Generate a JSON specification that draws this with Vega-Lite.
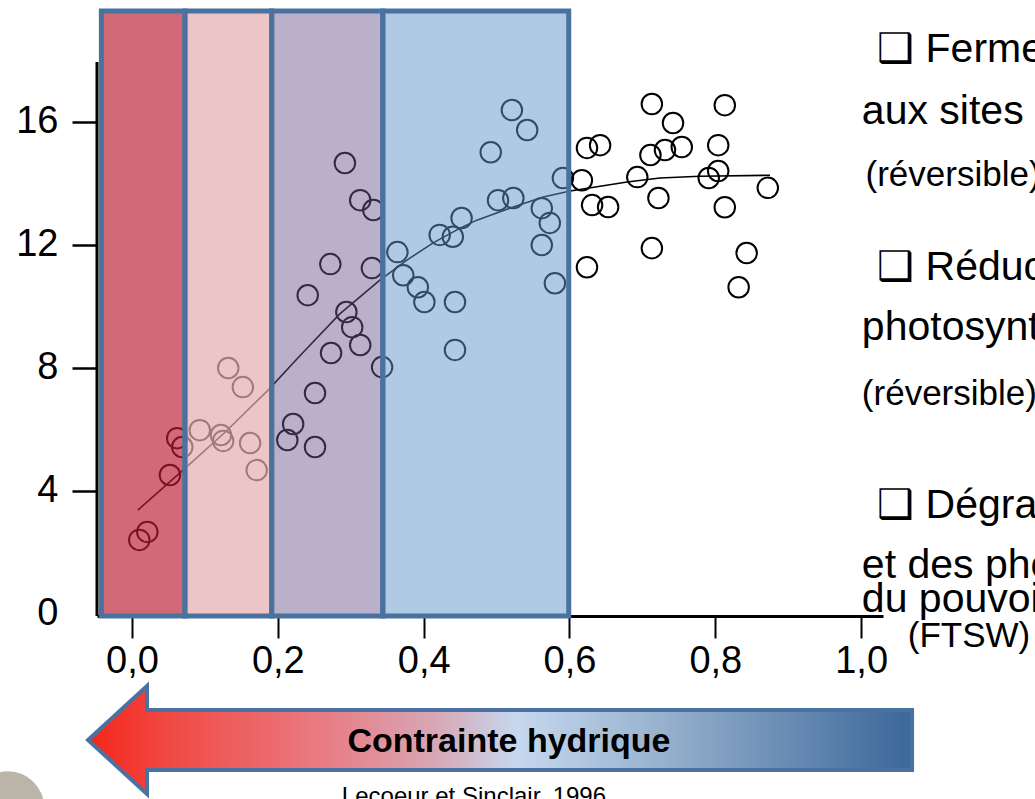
{
  "$schema": "https://vega.github.io/schema/vega-lite/v6.json",
  "width": 786,
  "height": 608,
  "autosize": {"type": "none"},
  "padding": {"left": 97, "top": 8, "right": 152, "bottom": 183},
  "background": "white",
  "config": {"view": {"stroke": null}, "font": "Liberation Sans"},
  "datasets": {
    "pts": [
      {"x":0.021,"y":2.66},{"x":0.010,"y":2.40},{"x":0.052,"y":4.51},{"x":0.062,"y":5.71},{"x":0.069,"y":5.42},
      {"x":0.093,"y":5.97},{"x":0.122,"y":5.81},{"x":0.125,"y":5.62},{"x":0.162,"y":5.55},{"x":0.171,"y":4.67},{"x":0.132,"y":7.99},{"x":0.152,"y":7.37},
      {"x":0.292,"y":14.66},{"x":0.313,"y":13.45},{"x":0.331,"y":13.13},{"x":0.272,"y":11.37},{"x":0.329,"y":11.24},{"x":0.241,"y":10.36},{"x":0.294,"y":9.81},{"x":0.302,"y":9.32},{"x":0.313,"y":8.74},{"x":0.273,"y":8.48},{"x":0.343,"y":8.02},{"x":0.251,"y":7.18},{"x":0.221,"y":6.17},{"x":0.213,"y":5.65},{"x":0.251,"y":5.42},
      {"x":0.364,"y":11.76},{"x":0.372,"y":11.01},{"x":0.392,"y":10.62},{"x":0.401,"y":10.14},{"x":0.422,"y":12.32},{"x":0.452,"y":12.87},{"x":0.440,"y":12.26},{"x":0.443,"y":10.14},{"x":0.443,"y":8.58},{"x":0.521,"y":16.38},{"x":0.542,"y":15.73},{"x":0.492,"y":15.01},{"x":0.502,"y":13.45},{"x":0.523,"y":13.52},{"x":0.591,"y":14.17},{"x":0.562,"y":13.19},{"x":0.573,"y":12.71},{"x":0.562,"y":11.99},{"x":0.580,"y":10.75},
      {"x":0.624,"y":15.15},{"x":0.642,"y":15.24},{"x":0.617,"y":14.10},{"x":0.631,"y":13.29},{"x":0.653,"y":13.23},{"x":0.624,"y":11.27},{"x":0.713,"y":16.58},{"x":0.813,"y":16.54},{"x":0.742,"y":15.96},{"x":0.711,"y":14.92},{"x":0.731,"y":15.08},{"x":0.754,"y":15.18},{"x":0.804,"y":15.24},{"x":0.693,"y":14.20},{"x":0.791,"y":14.17},{"x":0.804,"y":14.40},{"x":0.872,"y":13.85},{"x":0.722,"y":13.52},{"x":0.813,"y":13.22},{"x":0.713,"y":11.89},{"x":0.843,"y":11.73},{"x":0.832,"y":10.62}
    ],
    "fit": [
      {"x":0.008,"y":3.37},{"x":0.070,"y":4.67},{"x":0.128,"y":5.91},{"x":0.187,"y":7.28},{"x":0.230,"y":8.38},{"x":0.285,"y":9.75},{"x":0.340,"y":10.85},{"x":0.377,"y":11.50},{"x":0.413,"y":12.06},{"x":0.450,"y":12.54},{"x":0.473,"y":12.80},{"x":0.523,"y":13.23},{"x":0.564,"y":13.55},{"x":0.601,"y":13.75},{"x":0.679,"y":14.04},{"x":0.724,"y":14.17},{"x":0.779,"y":14.23},{"x":0.875,"y":14.26}
    ],
    "bands": [
      {"zone":"a","x":-0.042,"x2":0.0727,"y":-0.075,"y2":19.6},
      {"zone":"b","x":0.0727,"x2":0.1916,"y":-0.075,"y2":19.6},
      {"zone":"c","x":0.1916,"x2":0.344,"y":-0.075,"y2":19.6},
      {"zone":"d","x":0.344,"x2":0.599,"y":-0.075,"y2":19.6}
    ],
    "yaxis": [{"x":-0.048,"y":-0.075,"y2":17.94}],
    "bigtext": [
      {"x":1.022,"y":17.94,"t":"❑ Fermeture stomatique"},
      {"x":1.001,"y":15.92,"t":"aux sites de photosynthèse"},
      {"x":1.022,"y":10.85,"t":"❑ Réduction de la"},
      {"x":1.001,"y":8.90,"t":"photosynthèse"},
      {"x":1.022,"y":3.11,"t":"❑ Dégradation des pigments"},
      {"x":1.001,"y":1.16,"t":"et des photosystèmes"},
      {"x":1.001,"y":0.055,"t":"du pouvoir photosynthétique"}
    ],
    "smalltext": [
      {"x":1.006,"y":13.90,"t":"(réversible)"},
      {"x":1.001,"y":6.80,"t":"(réversible)"},
      {"x":1.064,"y":-1.08,"t":"(FTSW)"}
    ],
    "arrow": [{"x":0.5048,"y":-4.107}],
    "arrowtext": [{"x":0.517,"y":-4.17,"t":"Contrainte hydrique"}],
    "cite": [{"x":0.469,"y":-6.19,"t":"Lecoeur et Sinclair, 1996"}],
    "blob": [{"x":-0.17,"y":-6.3}]
  },
  "encoding": {
    "x": {
      "field": "x", "type": "quantitative",
      "scale": {"domain": [-0.048, 1.03], "nice": false, "zero": false},
      "axis": {
        "values": [0, 0.2, 0.4, 0.6, 0.8, 1.0],
        "title": null, "grid": false,
        "domainColor": "black", "domainWidth": 3,
        "tickColor": "black", "tickWidth": 2, "tickSize": 22,
        "labelFontSize": 38, "labelColor": "black", "labelPadding": 4,
        "labelFont": "Liberation Sans",
        "labelFlush": false, "labelOverlap": false,
        "labelExpr": "replace(format(datum.value, '.1f'), '.', ',')"
      }
    },
    "y": {
      "field": "y", "type": "quantitative",
      "scale": {"domain": [-0.075, 19.7], "nice": false, "zero": false},
      "axis": {
        "values": [0, 4, 8, 12, 16],
        "title": null, "grid": false, "domain": false,
        "tickColor": "black", "tickWidth": 2.5, "tickSize": 25,
        "tickOpacity": {"condition": {"test": "datum.value == 0", "value": 0}, "value": 1},
        "labelFontSize": 38, "labelColor": "black", "labelPadding": 14,
        "labelFont": "Liberation Sans"
      }
    }
  },
  "layer": [
    {
      "data": {"name": "blob"},
      "mark": {"type": "point", "shape": "circle", "filled": true, "fill": "#b3ad9f", "opacity": 0.9, "size": 5200, "strokeWidth": 0}
    },
    {
      "data": {"name": "pts"},
      "mark": {"type": "point", "shape": "circle", "filled": false, "stroke": "black", "strokeWidth": 2, "size": 420, "opacity": 1}
    },
    {
      "data": {"name": "fit"},
      "mark": {"type": "line", "color": "black", "strokeWidth": 1.6}
    },
    {
      "data": {"name": "bands"},
      "transform": [{"filter": "datum.zone == 'a'"}],
      "mark": {"type": "rect", "fill": "#b81d31", "fillOpacity": 0.66, "stroke": "#4a72a0", "strokeWidth": 5, "strokeOpacity": 1},
      "encoding": {"x2": {"field": "x2"}, "y2": {"field": "y2"}}
    },
    {
      "data": {"name": "bands"},
      "transform": [{"filter": "datum.zone == 'b'"}],
      "mark": {"type": "rect", "fill": "#e4aeae", "fillOpacity": 0.70, "stroke": "#4a72a0", "strokeWidth": 5, "strokeOpacity": 1},
      "encoding": {"x2": {"field": "x2"}, "y2": {"field": "y2"}}
    },
    {
      "data": {"name": "bands"},
      "transform": [{"filter": "datum.zone == 'c'"}],
      "mark": {"type": "rect", "fill": "#6e578c", "fillOpacity": 0.47, "stroke": "#4a72a0", "strokeWidth": 5, "strokeOpacity": 1},
      "encoding": {"x2": {"field": "x2"}, "y2": {"field": "y2"}}
    },
    {
      "data": {"name": "bands"},
      "transform": [{"filter": "datum.zone == 'd'"}],
      "mark": {"type": "rect", "fill": "#6195c7", "fillOpacity": 0.5, "stroke": "#4a72a0", "strokeWidth": 5, "strokeOpacity": 1},
      "encoding": {"x2": {"field": "x2"}, "y2": {"field": "y2"}}
    },
    {
      "data": {"name": "yaxis"},
      "mark": {"type": "rule", "color": "black", "strokeWidth": 3},
      "encoding": {"y2": {"field": "y2"}}
    },
    {
      "data": {"name": "bigtext"},
      "mark": {"type": "text", "align": "left", "baseline": "alphabetic", "fontSize": 41, "font": "Liberation Sans", "color": "black"},
      "encoding": {"text": {"field": "t"}}
    },
    {
      "data": {"name": "smalltext"},
      "mark": {"type": "text", "align": "left", "baseline": "alphabetic", "fontSize": 35, "font": "Liberation Sans", "color": "black"},
      "encoding": {"text": {"field": "t"}}
    },
    {
      "data": {"name": "arrow"},
      "mark": {
        "type": "point",
        "shape": "M -1 0 L -0.857 -0.131 L -0.857 -0.073 L 1 -0.073 L 1 0.073 L -0.857 0.073 L -0.857 0.131 Z",
        "size": 678976, "filled": true, "opacity": 1,
        "fill": {"gradient": "linear", "x1": 0, "y1": 0, "x2": 1, "y2": 0, "stops": [
          {"offset": 0, "color": "#f5261a"},
          {"offset": 0.1, "color": "#f04a45"},
          {"offset": 0.28, "color": "#e97a82"},
          {"offset": 0.42, "color": "#d8a6b4"},
          {"offset": 0.52, "color": "#c6d8ee"},
          {"offset": 0.7, "color": "#96b0cd"},
          {"offset": 1, "color": "#3b679a"}
        ]},
        "stroke": "#4a72a0", "strokeWidth": 4
      }
    },
    {
      "data": {"name": "arrowtext"},
      "mark": {"type": "text", "align": "center", "baseline": "middle", "fontSize": 34, "fontWeight": "bold", "font": "Liberation Sans", "color": "black"},
      "encoding": {"text": {"field": "t"}}
    },
    {
      "data": {"name": "cite"},
      "mark": {"type": "text", "align": "center", "baseline": "alphabetic", "fontSize": 24, "font": "Liberation Sans", "color": "black"},
      "encoding": {"text": {"field": "t"}}
    }
  ]
}
